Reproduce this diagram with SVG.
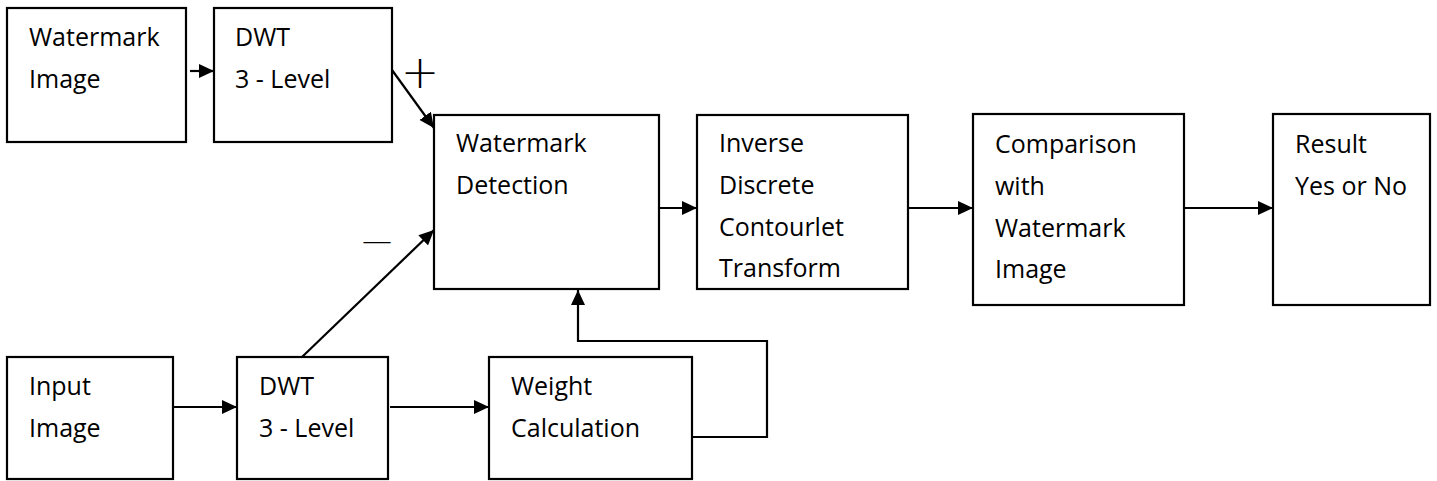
<svg xmlns="http://www.w3.org/2000/svg" width="1437" height="481" viewBox="0 0 1437 481">
  <style>
    .box { fill: #ffffff; stroke: #000000; stroke-width: 2.2; }
    .wire { fill: none; stroke: #000000; stroke-width: 2.2; }
    .label { font-family: "Open Sans", "Liberation Sans", sans-serif; font-size: 25px; fill: #000000; }
    .sign { font-family: "DejaVu Sans", "Liberation Sans", sans-serif; font-weight: 200; fill: #000000; }
  </style>
  <defs>
    <marker id="arrow" markerWidth="15" markerHeight="14" refX="15" refY="7" orient="auto" markerUnits="userSpaceOnUse">
      <path d="M0,0 L15,7 L0,14 Z" fill="#000000"/>
    </marker>
  </defs>
  <rect width="1437" height="481" fill="#ffffff"/>

  <g id="connectors">
    <line class="wire" x1="190" y1="71" x2="214" y2="71" marker-end="url(#arrow)"/>
    <line class="wire" x1="392" y1="70" x2="434" y2="128" marker-end="url(#arrow)"/>
    <line class="wire" x1="302" y1="357" x2="434" y2="230" marker-end="url(#arrow)"/>
    <line class="wire" x1="659" y1="208" x2="697" y2="208" marker-end="url(#arrow)"/>
    <line class="wire" x1="908" y1="208" x2="973" y2="208" marker-end="url(#arrow)"/>
    <line class="wire" x1="1184" y1="208" x2="1273" y2="208" marker-end="url(#arrow)"/>
    <line class="wire" x1="171" y1="407" x2="237" y2="407" marker-end="url(#arrow)"/>
    <line class="wire" x1="390" y1="407" x2="489" y2="407" marker-end="url(#arrow)"/>
    <polyline class="wire" points="692,437 767,437 767,341 578,341 578,290" marker-end="url(#arrow)"/>
    <text class="sign" font-size="46" x="420" y="88" text-anchor="middle">+</text>
    <text class="sign" font-size="30" x="377" y="251" text-anchor="middle">—</text>
  </g>

  <g id="watermark-image">
    <rect class="box" x="7" y="8" width="179" height="134"/>
    <text class="label" x="29" y="46">Watermark</text>
    <text class="label" x="29" y="88">Image</text>
  </g>

  <g id="dwt-top">
    <rect class="box" x="214" y="8" width="178" height="134"/>
    <text class="label" x="235" y="46">DWT</text>
    <text class="label" x="235" y="88">3 - Level</text>
  </g>

  <g id="watermark-detection">
    <rect class="box" x="434" y="115" width="225" height="174"/>
    <text class="label" x="456" y="152">Watermark</text>
    <text class="label" x="456" y="194">Detection</text>
  </g>

  <g id="inverse-dct">
    <rect class="box" x="697" y="115" width="211" height="174"/>
    <text class="label" x="719" y="152">Inverse</text>
    <text class="label" x="719" y="194">Discrete</text>
    <text class="label" x="719" y="236">Contourlet</text>
    <text class="label" x="719" y="277">Transform</text>
  </g>

  <g id="comparison">
    <rect class="box" x="973" y="114" width="211" height="191"/>
    <text class="label" x="995" y="153">Comparison</text>
    <text class="label" x="995" y="195">with</text>
    <text class="label" x="995" y="237">Watermark</text>
    <text class="label" x="995" y="278">Image</text>
  </g>

  <g id="result">
    <rect class="box" x="1273" y="114" width="157" height="191"/>
    <text class="label" x="1295" y="153">Result</text>
    <text class="label" x="1295" y="195">Yes or No</text>
  </g>

  <g id="input-image">
    <rect class="box" x="7" y="357" width="166" height="122"/>
    <text class="label" x="29" y="395">Input</text>
    <text class="label" x="29" y="437">Image</text>
  </g>

  <g id="dwt-bottom">
    <rect class="box" x="237" y="357" width="151" height="122"/>
    <text class="label" x="259" y="395">DWT</text>
    <text class="label" x="259" y="437">3 - Level</text>
  </g>

  <g id="weight-calculation">
    <rect class="box" x="489" y="357" width="203" height="122"/>
    <text class="label" x="511" y="395">Weight</text>
    <text class="label" x="511" y="437">Calculation</text>
  </g>
</svg>
